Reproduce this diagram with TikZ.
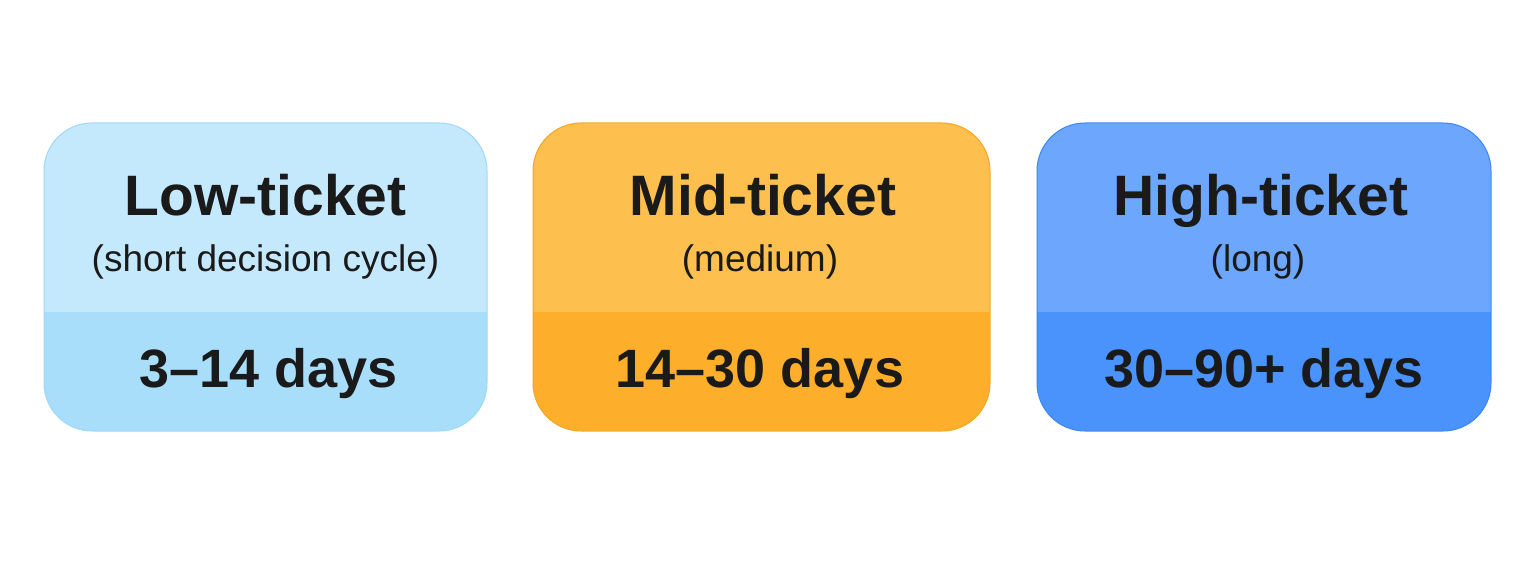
\documentclass[tikz,border=0pt]{standalone}
\usepackage{fontspec}
\setmainfont{Liberation Sans}
\definecolor{lowtop}{HTML}{C5E9FC}
\definecolor{lowbot}{HTML}{A9DEFB}
\definecolor{lowline}{HTML}{9FD8F8}
\definecolor{midtop}{HTML}{FDC04E}
\definecolor{midbot}{HTML}{FDAE2B}
\definecolor{midline}{HTML}{F5A623}
\definecolor{hightop}{HTML}{6DA7FD}
\definecolor{highbot}{HTML}{4A93FC}
\definecolor{highline}{HTML}{3C86F5}
\definecolor{ink}{HTML}{1A1A1A}
\tikzset{
  titletext/.style={text=ink, font=\fontsize{57}{60}\selectfont\bfseries, anchor=base, inner sep=0pt},
  subtext/.style={text=ink, font=\fontsize{37}{40}\selectfont, anchor=base, inner sep=0pt},
  daytext/.style={text=ink, font=\fontsize{54}{60}\selectfont\bfseries, anchor=base, inner sep=0pt},
}
\newcommand{\tierbox}[5]{% x1, x2, top colour, bottom colour, line colour
  \begin{scope}
    \clip[rounded corners=48pt] (#1,123) rectangle (#2,431);
    \fill[#3] (#1,123) rectangle (#2,312);
    \fill[#4] (#1,312) rectangle (#2,431);
  \end{scope}
  \draw[#5, line width=1pt, rounded corners=48pt] (#1,123) rectangle (#2,431);
}
\begin{document}
\begin{tikzpicture}[x=1pt,y=-1pt]
\useasboundingbox (0,0) rectangle (1536,575);
\fill[white] (0,0) rectangle (1536,575);
\tierbox{44}{487}{lowtop}{lowbot}{lowline}
\tierbox{533}{990}{midtop}{midbot}{midline}
\tierbox{1037}{1491}{hightop}{highbot}{highline}
% low
\node[titletext] (lowtitle) at (265.5,215) {Low-ticket};
\node[subtext] (lowsub) at (265.5,271) {(short decision cycle)};
\node[daytext] (lowdays) at (269,387) {3–14 days};
% mid
\node[titletext] (midtitle) at (763,215) {Mid-ticket};
\node[subtext] (midsub) at (760,271) {(medium)};
\node[daytext] (middays) at (760,387) {14–30 days};
% high
\node[titletext] (hightitle) at (1261,215) {High-ticket};
\node[subtext] (highsub) at (1258,271) {(long)};
\node[daytext] (highdays) at (1264,387) {30–90+ days};
\end{tikzpicture}
\end{document}
